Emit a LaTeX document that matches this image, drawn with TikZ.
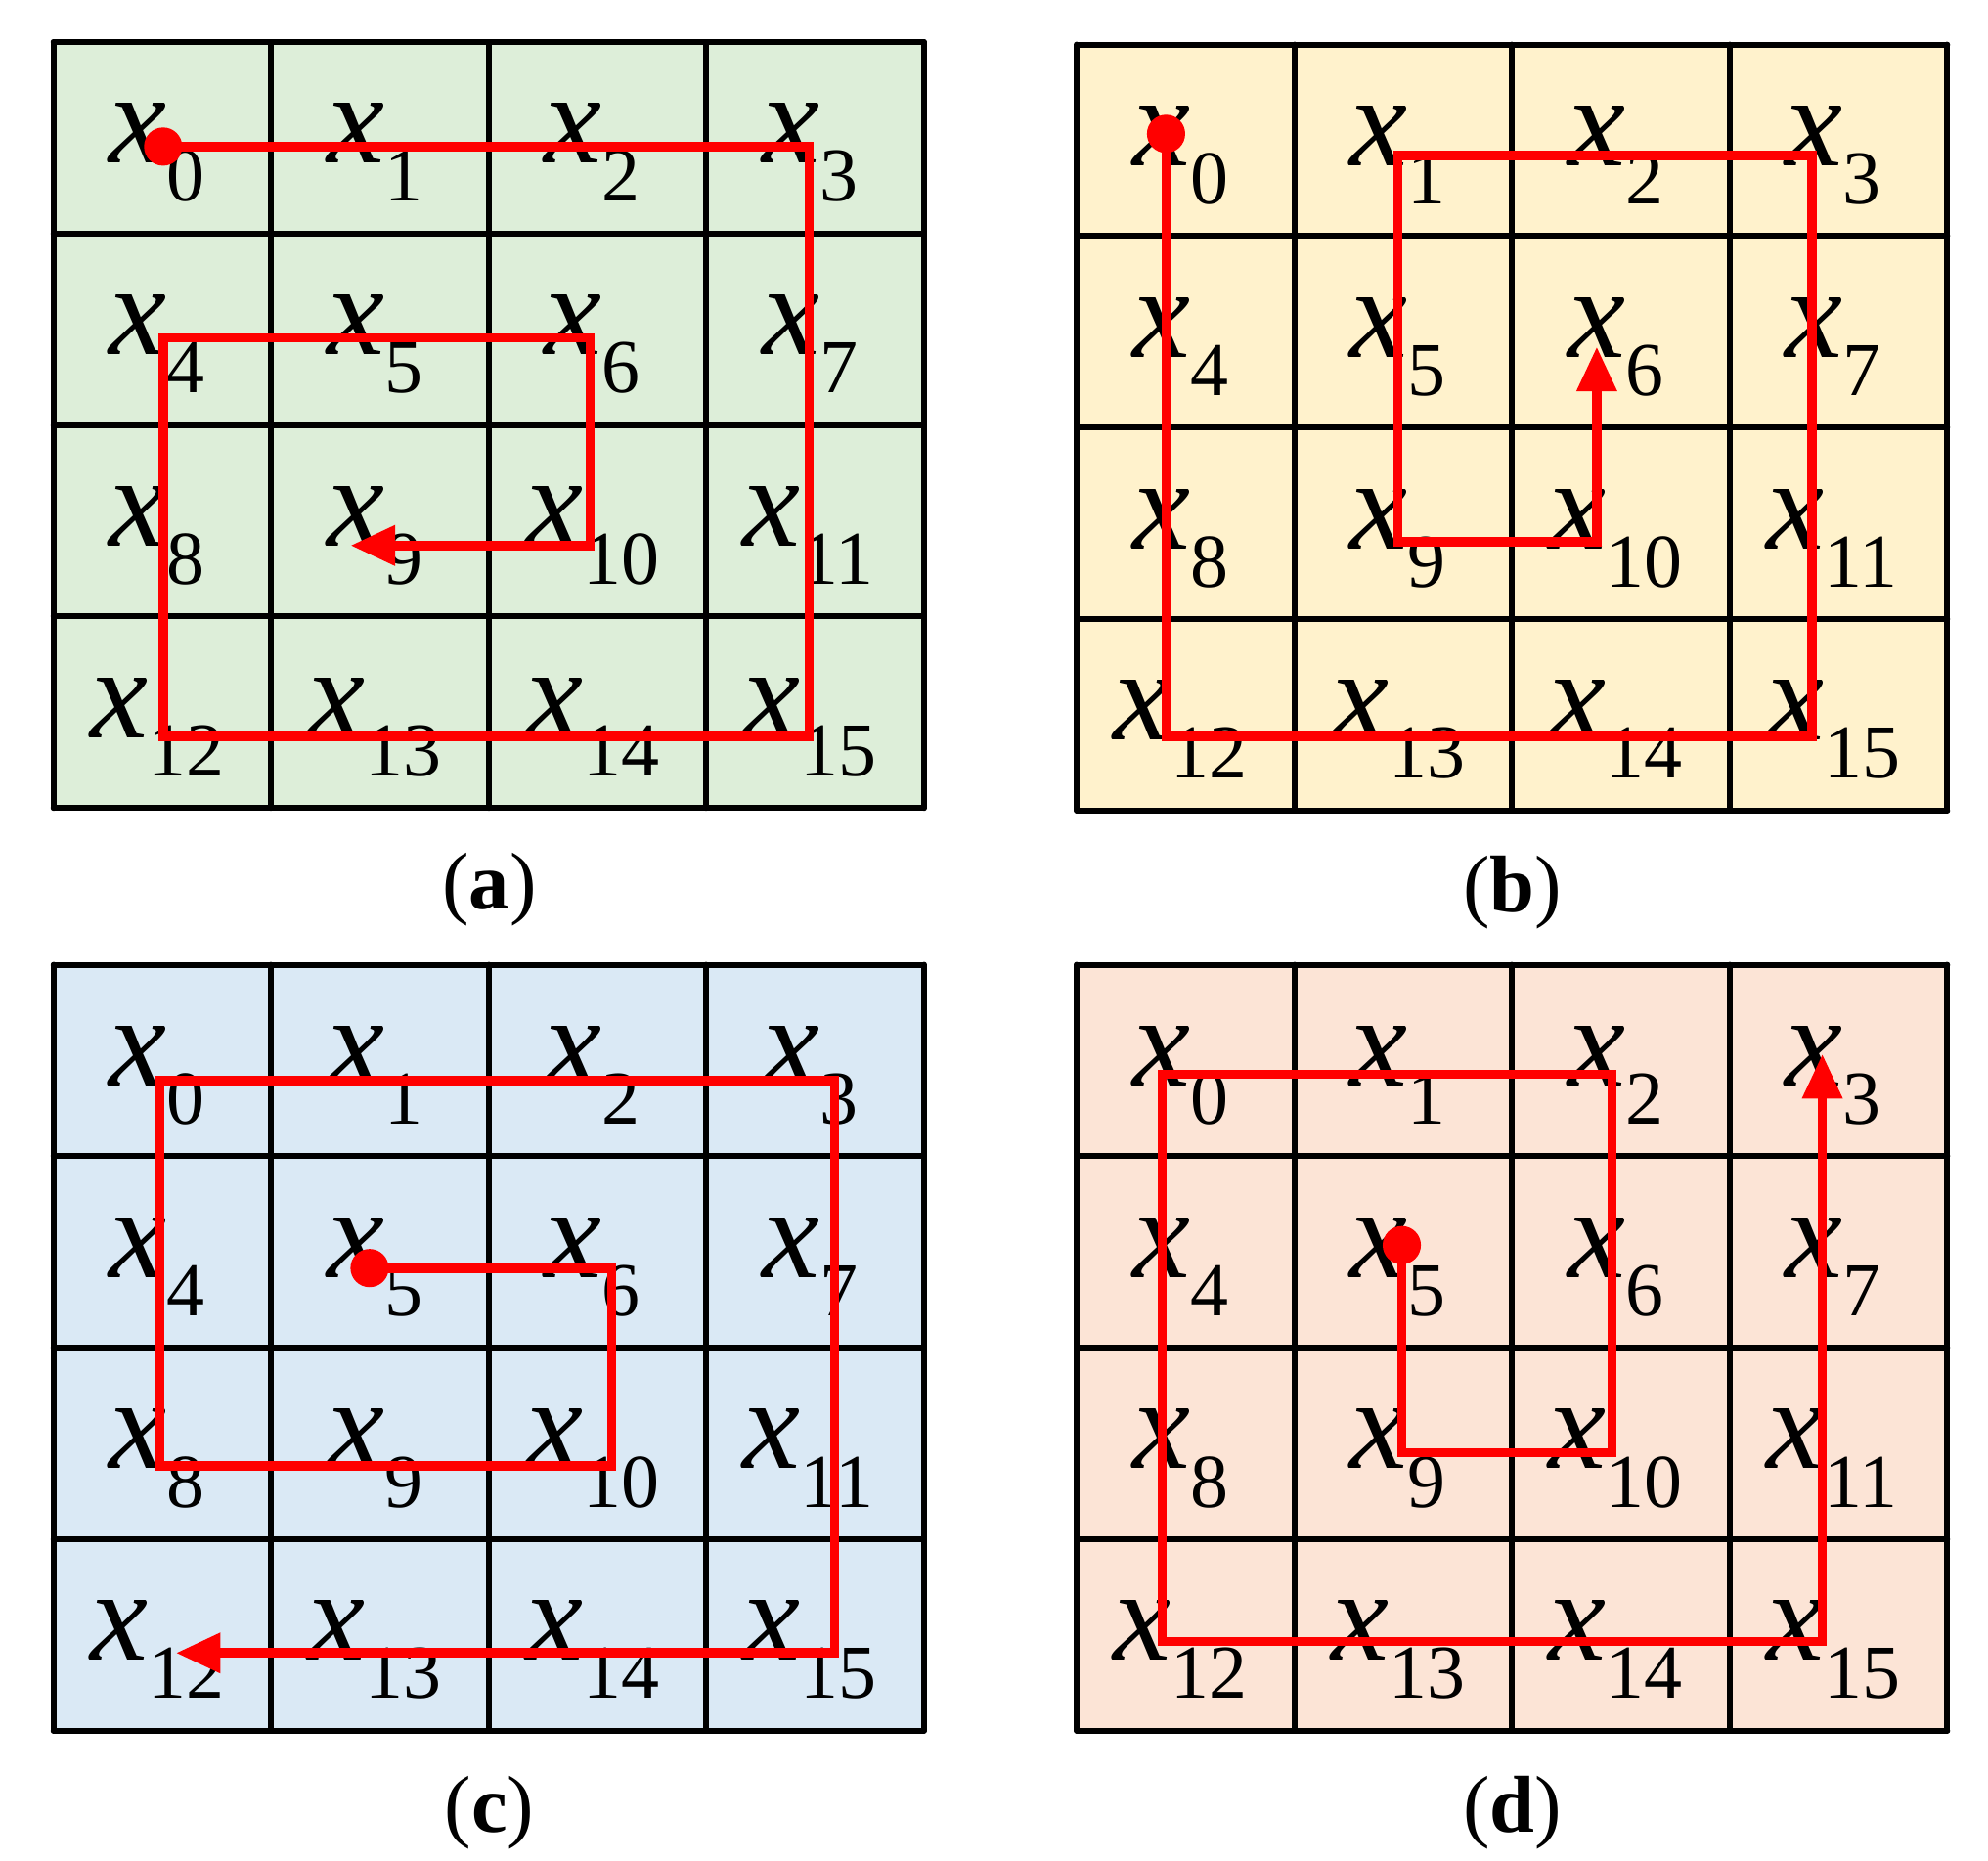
\documentclass[tikz,border=0pt]{standalone}
\usepackage{fontspec}
\setmainfont{Liberation Serif}
\usetikzlibrary{arrows.meta}
\definecolor{gA}{RGB}{221,238,217}
\definecolor{gB}{RGB}{255,242,204}
\definecolor{gC}{RGB}{218,233,245}
\definecolor{gD}{RGB}{252,228,214}
\newcommand{\cellgrid}[4]{% left, top, fill, caption
  \fill[#3] (#1,#2) rectangle ++(683,601);
  \foreach \i in {0,...,4}{
    \draw[gridline] (#1+\i*170.75,#2) -- ++(0,601);
    \draw[gridline] (#1,#2+\i*150.25) -- ++(683,0);
  }
  \foreach \r in {0,...,3}{
    \foreach \c in {0,...,3}{
      \pgfmathtruncatemacro{\k}{\r*4+\c}
      \ifnum\k<10
        \node[lbl] at (#1+\c*170.75+43,#2+\r*150.25+95) {\fontsize{29}{29}\selectfont\textit{x}\raisebox{-0.3cm}{\fontsize{17}{17}\selectfont\k}};
      \else
        \node[lbl] at (#1+\c*170.75+28,#2+\r*150.25+95) {\fontsize{29}{29}\selectfont\textit{x}\raisebox{-0.3cm}{\fontsize{17}{17}\selectfont\k}};
      \fi
    }
  }
  \node[captext] at (#1+342,#2+665) {(\textbf{#4})};
}
\begin{document}
\begin{tikzpicture}[x=0.01cm,y=-0.01cm,
    gridline/.style={line width=1.3pt, black, line cap=round},
    lbl/.style={anchor=base west, inner sep=0pt},
    captext/.style={font=\fontsize{18}{18}\selectfont},
    scan/.style={line width=2.1pt, red, line join=miter},
    scanarrow/.style={scan, -{Triangle[length=0.35cm,width=0.3cm]}},
    start/.style={fill=red, radius=15},
  ]
\useasboundingbox (0,0) rectangle (1560,1460);

\cellgrid{42}{33}{gA}{a}
\cellgrid{845}{35}{gB}{b}
\cellgrid{42}{757}{gC}{c}
\cellgrid{845}{757}{gD}{d}

% (a)
\draw[scanarrow] (128,115) -- (635,115) -- (635,578) -- (128,578) -- (128,265)
  -- (463,265) -- (463,428) -- (275,428);
\fill[start] (128,115) circle;
% (b)
\draw[scanarrow] (915,105) -- (915,578) -- (1422,578) -- (1422,122) -- (1097,122)
  -- (1097,425) -- (1253,425) -- (1253,272);
\fill[start] (915,105) circle;
% (c)
\draw[scanarrow] (290,995) -- (480,995) -- (480,1150) -- (125,1150) -- (125,848)
  -- (655,848) -- (655,1297) -- (138,1297);
\fill[start] (290,995) circle;
% (d)
\draw[scanarrow] (1100,977) -- (1100,1140) -- (1265,1140) -- (1265,843) -- (912,843)
  -- (912,1288) -- (1430,1288) -- (1430,827);
\fill[start] (1100,977) circle;
\end{tikzpicture}
\end{document}
